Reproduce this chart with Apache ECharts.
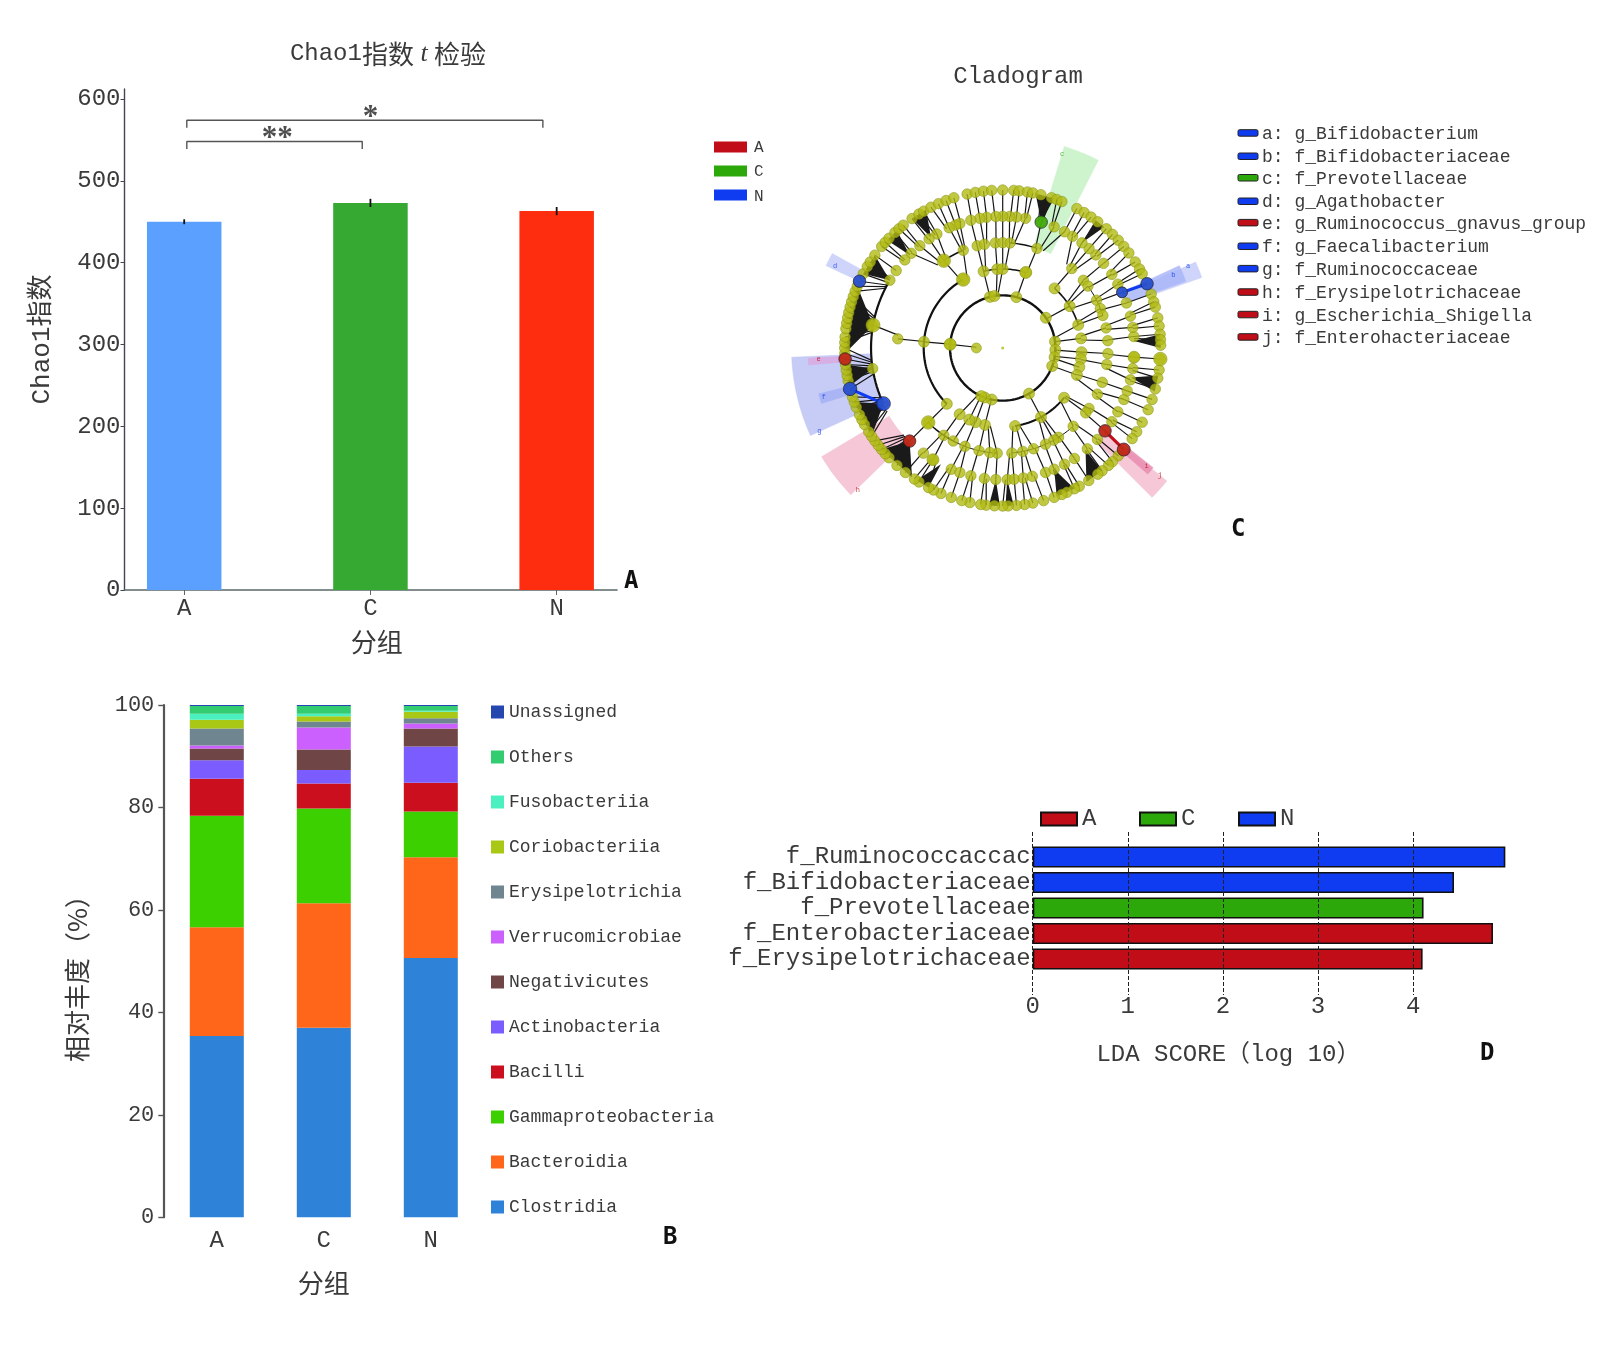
<!DOCTYPE html>
<html><head><meta charset="utf-8">
<style>html,body{margin:0;padding:0;background:#fff}#c{width:1600px;height:1347px}</style>
<script src="https://cdn.jsdelivr.net/npm/echarts@6/dist/echarts.min.js"></script>
</head><body><div id="c"></div>
<script>
// ---- Panel A
const chaoCategories = ['A','C','N'];
const chaoValues = [450,473,463];
const chaoErrors = [3,5,5];
const chaoColors = ['#5b9fff','#35a932','#ff2d10'];
const chaoTicks = [0,100,200,300,400,500,600];
const bracketShort = [[0.014,539],[0.014,548],[0.956,548],[0.956,539]];
const bracketLong = [[0.014,565],[0.014,574],[1.926,574],[1.926,565]];
const starMarks = [[0.5,548,'**'],[1.0,574,'*']];
// ---- Panel B
const stackCategories = ['A','C','N'];
const taxa = ['Clostridia','Bacteroidia','Gammaproteobacteria','Bacilli','Actinobacteria','Negativicutes','Verrucomicrobiae','Erysipelotrichia','Coriobacteriia','Fusobacteriia','Others','Unassigned'];
const taxaColors = ['#2e82d8','#ff661a','#3dd000','#cc0f1e','#7a5cff','#704545','#cc60ff','#6f8590','#a8c815','#4af0c0','#33cc70','#2448b0'];
const groupA = [35.4,21.2,21.8,7.2,3.6,2.3,0.6,3.3,1.7,1.2,1.5,0.2];
const groupC = [37.0,24.3,18.5,4.9,2.6,4.0,4.3,1.2,1.0,0.5,1.5,0.2];
const groupN = [50.6,19.7,8.9,5.6,7.1,3.5,1.0,1.0,1.3,0.2,0.9,0.2];
// ---- Panel D
const ldaNames = ['f_Ruminococcaccac','f_Bifidobacteriaceae','f_Prevotellaceae','f_Enterobacteriaceae','f_Erysipelotrichaceae'];
const ldaScores = [4.97,4.43,4.11,4.84,4.10];
const ldaGroups = ['N','N','C','A','A'];
const groupNames = ['A','C','N'];
const groupColors = {A:'#c00d18',C:'#2da80a',N:'#0f3cf0'};
// ---- Panel C: cladogram, angle in degrees clockwise from north, per ring
const ring1 = [270];
const ring2 = [274,346,351,15,55,83,92,100,110,150,192,200,204];
const ring3 = [274.5,330,346,356,0,17,41,58,73,83,93,98,104,110,129,151,171,193,200,205,213,225];
const ring4 = [275,326,338,346,350,356,0,4,19,41,50,54,63,68,72,79,86,93,99,109,116,125,128,138,148,151,156,163,169,175,183,187,193,201,208,214,225];
const ring5 = [280,261,245,225,212,217,203,199,194,188,183,178,175,171,167,161,157,152,147,140,134,129,124,119,113,109,104,99,94,85,81,76,70,65,61,56,50,45,41,37,32,28,23,17,10,6,3,0,357,353,350,346,341,339,336,330,326,321,316,312,306,301];
const ring6 = [347,350,353,356,0,4,6,9,11,14,18,20,22,28,31,34,37,41,44,47,50,53,57,60,62,66,70,73,75,79,82,85,87,89,94,98,101,105,109,113,118,122,125,130,133,136,138,141,143,147,151,153,156,158,161,165,169,172,175,178,180,183,186,188,192,195,199,203,206,208,212,214,218,222,226,228,230,232,234,236,238,241,243,245,248,250,252,255,258,260,262,264,266,268,270,272,274,277,279,281,283,285,287,289,291,293,295,298,301,303,306,310,312,314,317,319,321,325,328,330,333,336,339,342];
const bigNodes = [[2,274,12],[3,330,13.5],[3,17,12],[4,326,13.5],[4,225,13.5],[5,280,14],[5,94,12],[5,212,12],[6,94,13.5]];
const cladeNodes = [[6,295,'N',12.5],[6,255,'N',13.5],[5,245,'N',14],[6,66,'N',12.5],[5,65,'N',11],[6,266,'A',12.5],[5,225,'A',12.5],[5,129,'A',12.5],[6,130,'A',13],[5,17,'C',12.5]];
const cladeEdges = [[6,255,5,245,'N'],[6,66,5,65,'N'],[6,130,5,129,'A']];
const ringArcs = [[2,0,360,2.4],[3,225,330,2.2],[3,346,377,1.5],[3,41,73,1.6],[3,129,171,2],[4,4,19,1.5],[4,326,338,1.6],[5,245,300,2.2],[4,138,175,1],[4,183,205,1],[4,205,225,1.6],[4,54,72,1]];
const fanWedges = [[5,17,6,12,19],[5,87,6,85,90],[5,280,6,268,293],[5,261,6,256,264],[5,245,6,236,250],[5,225,6,215,230],[5,301,6,298,306],[5,208,6,208,213],[5,183,6,181,185],[5,178,6,176,179],[5,157,6,153,160],[5,141,6,141,148],[5,103,6,100,106],[5,37,6,36,40],[5,315,6,313,318],[5,327,6,325,331]];
const cladeSectors = [[4.02,8,17,27,'#c6f2c6'],[5.03,8.02,245.5,267.5,'#bcc3f5'],[5.03,8.02,226,239,'#f3bdd0'],[5.05,8.02,129,135,'#f3bdd0'],[6.02,8.02,66,70.5,'#c7cdfa'],[6.05,7.4,295,299,'#c7cdfa'],[6.05,7.4,265,267,'#d9a9e0'],[6.05,7.2,253,256,'#a4b0f5'],[6.05,7.3,128.5,131,'#e88cb0'],[5,7.4,65,70,'#a9b6f8']];
const sectorLetters = [[7.7,17,'c','C'],[7.08,296,'d','N'],[7.0,266.5,'e','A'],[7.05,254.8,'f','N'],[7.65,245.5,'g','N'],[7.7,225.6,'h','A'],[7.08,129.5,'i','A'],[7.68,129,'j','A'],[7.05,66.8,'b','N'],[7.7,66.2,'a','N']];
const cladoLegend = ['a: g_Bifidobacterium','b: f_Bifidobacteriaceae','c: f_Prevotellaceae','d: g_Agathobacter','e: g_Ruminococcus_gnavus_group','f: g_Faecalibacterium','g: f_Ruminococcaceae','h: f_Erysipelotrichaceae','i: g_Escherichia_Shigella','j: f_Enterohacteriaceae'];
const cladoLegendGroups = ['N','N','C','N','A','N','N','A','A','A'];

const MONO = '"Liberation Mono","Noto Sans CJK SC",monospace';
const INK = '#3a3a3a';
const chart = echarts.init(document.getElementById('c'));

const rings = [[0],ring1,ring2,ring3,ring4,ring5,ring6];
const edges = [];
for (let L=2; L<=6; L++) {
  rings[L].forEach(t=>{
    let best=null,bd=1e9,sd=0;
    rings[L-1].forEach(p=>{ let d=((p-t+540)%360)-180; if(Math.abs(d)<bd){bd=Math.abs(d);best=p;sd=d;} });
    if (bd<=12) edges.push([L,t,L-1,(t+0.6*sd+360)%360]);
  });
}
const lineItem = (api,params,color,width)=>{
  const a=api.coord([api.value(0),api.value(1)%360]), b=api.coord([api.value(2),api.value(3)%360]);
  return {type:'line',shape:{x1:a[0],y1:a[1],x2:b[0],y2:b[1]},style:{stroke:color,lineWidth:width}};
};
const polarBase = {coordinateSystem:'polar',polarIndex:0,silent:true,animation:false,clip:false};
const olive = {color:'#b2bc14',borderColor:'#8a9410',borderWidth:0.7};

const series = [];
// A
series.push({type:'bar',name:'chao',xAxisIndex:0,yAxisIndex:0,barWidth:74.5,animation:false,
  data:chaoValues.map((v,i)=>({value:[i,v],itemStyle:{color:chaoColors[i]}}))});
series.push({type:'custom',name:'chaoErr',xAxisIndex:0,yAxisIndex:0,animation:false,silent:true,z:5,
  data:chaoValues.map((v,i)=>[i,v-chaoErrors[i],v+chaoErrors[i]]),
  renderItem:(p,api)=>{const a=api.coord([api.value(0),api.value(1)]),b=api.coord([api.value(0),api.value(2)]);
    return {type:'line',shape:{x1:a[0],y1:a[1],x2:b[0],y2:b[1]},style:{stroke:'#111',lineWidth:1.8}};}});
[bracketShort,bracketLong].forEach((b,i)=>series.push({type:'line',name:'bracket'+i,xAxisIndex:0,yAxisIndex:0,data:b,showSymbol:false,symbol:'none',animation:false,silent:true,lineStyle:{color:'#555',width:1.4}}));
series.push({type:'scatter',name:'stars',xAxisIndex:0,yAxisIndex:0,symbolSize:0,animation:false,silent:true,
  data:starMarks.map(s=>({value:[s[0],s[1]],label:{show:true,formatter:s[2],position:'top',distance:-13,fontFamily:'"Liberation Serif"',fontWeight:'bold',fontSize:31,color:'#222'}}))});
// B
taxa.forEach((t,i)=>series.push({type:'bar',name:t,stack:'b',xAxisIndex:1,yAxisIndex:1,barWidth:54,animation:false,
  itemStyle:{color:taxaColors[i]},data:[groupA[i],groupC[i],groupN[i]]}));
// D
groupNames.forEach(g=>series.push({type:'bar',name:g,xAxisIndex:2,yAxisIndex:2,barWidth:21,barGap:'-100%',animation:false,
  itemStyle:{color:groupColors[g],borderColor:'#111',borderWidth:1.6},
  data:ldaScores.map((v,i)=>ldaGroups[i]===g?v:null)}));
// C
series.push({...polarBase,type:'custom',name:'sectors',z:1,data:cladeSectors,
  renderItem:(p,api)=>{
    const s=cladeSectors[p.dataIndex],pts=[];
    for(let k=0;k<=12;k++){const t=s[2]+(s[3]-s[2])*k/12;pts.push(api.coord([s[1],t]));}
    for(let k=12;k>=0;k--){const t=s[2]+(s[3]-s[2])*k/12;pts.push(api.coord([s[0],t]));}
    return {type:'polygon',shape:{points:pts},style:{fill:s[4],stroke:s[4],lineWidth:0.5,opacity:0.85}};
  }});
series.push({...polarBase,type:'custom',name:'edges',z:2,data:edges,renderItem:(p,api)=>lineItem(api,p,'#151515',1.2)});
series.push({...polarBase,type:'custom',name:'arcs',z:2,data:ringArcs,
  renderItem:(p,api)=>{const s=ringArcs[p.dataIndex],pts=[];const n=Math.ceil((s[2]-s[1])/2);
    for(let k=0;k<=n;k++){pts.push(api.coord([s[0],(s[1]+(s[2]-s[1])*k/n)%360]));}
    return {type:'polyline',shape:{points:pts},style:{fill:'none',stroke:'#111',lineWidth:s[3]}};}});
series.push({...polarBase,type:'custom',name:'fans',z:2,data:fanWedges,
  renderItem:(p,api)=>{const s=fanWedges[p.dataIndex];
    return {type:'polygon',shape:{points:[api.coord([s[0],s[1]]),api.coord([s[2],s[3]]),api.coord([s[2],s[4]])]},style:{fill:'#1a1a1a'}};}});
series.push({...polarBase,type:'custom',name:'cladeEdges',z:3,data:cladeEdges,
  renderItem:(p,api)=>lineItem(api,p,groupColors[cladeEdges[p.dataIndex][4]],3)});
[[1,10],[2,11],[3,11],[4,10.5],[5,10.5],[6,10.5]].forEach(([L,sz])=>series.push({...polarBase,type:'scatter',name:'ring'+L,z:4,symbolSize:sz,itemStyle:olive,
  data:rings[L].map(t=>[L,t])}));
series.push({...polarBase,type:'scatter',name:'rootNode',z:4,symbolSize:3,itemStyle:{color:'#b2bc14'},data:[[0,0]]});
series.push({...polarBase,type:'scatter',name:'bigNodes',z:5,itemStyle:olive,data:bigNodes.map(n=>[n[0],n[1],n[2]]),symbolSize:v=>v[2]});
series.push({...polarBase,type:'scatter',name:'cladeNodes',z:6,
  data:cladeNodes.map(n=>({value:[n[0],n[1]],symbolSize:n[3],itemStyle:{color:groupColors[n[2]],borderColor:'#222',borderWidth:0.9}}))});
series.push({...polarBase,type:'scatter',name:'letters',z:6,symbolSize:0,
  data:sectorLetters.map(s=>({value:[s[0],s[1]],label:{show:true,formatter:s[2],position:'inside',fontSize:7,fontFamily:MONO,color:groupColors[s[3]]}}))});

const graphic = [];
[['A',624,570],['B',663,1226],['C',1231,518],['D',1480,1042]].forEach(l=>graphic.push(
  {type:'text',x:l[1],y:l[2],z:20,style:{text:l[0],fontFamily:'"DejaVu Sans Mono"',fontWeight:'bold',fontSize:24,fill:'#111'}}));
groupNames.forEach((g,i)=>{
  graphic.push({type:'rect',shape:{x:714,y:141.5+i*24,width:33,height:11},style:{fill:groupColors[g]}});
  graphic.push({type:'text',x:754,y:139.5+i*24.5,style:{text:g,fontFamily:MONO,fontSize:16,fill:INK}});
});
const legendYs=[132.7,156,177.5,201,222.4,246,268.4,291.8,314.3,336.7];
cladoLegend.forEach((t,i)=>{
  graphic.push({type:'rect',shape:{x:1238,y:legendYs[i]-3,width:20,height:6.5,r:1.5},style:{fill:groupColors[cladoLegendGroups[i]],stroke:'#222',lineWidth:1}});
  graphic.push({type:'text',x:1262,y:legendYs[i]-7.5,style:{text:t,fontFamily:MONO,fontSize:18,fill:INK}});
});

chart.setOption({
  backgroundColor:'#fff',animation:false,
  title:[
    {text:'{a|Chao1}{c|指数}{i| t }{c|检验}',left:383,top:36,textAlign:'center',textStyle:{fontWeight:'normal',rich:{a:{fontFamily:MONO,fontWeight:'normal',fontSize:24,color:INK},c:{fontFamily:'"Noto Sans CJK SC"',fontWeight:'normal',fontSize:26,color:INK},i:{fontFamily:'"Liberation Serif"',fontWeight:'normal',fontStyle:'italic',fontSize:26,color:INK}}}},
    {text:'Cladogram',left:1013,top:60,textAlign:'center',textStyle:{fontFamily:MONO,fontSize:24,fontWeight:'normal',color:INK}}
  ],
  grid:[
    {left:124.5,top:89,width:492.5,height:501},
    {left:163.3,top:705,width:321,height:512.3},
    {left:1032.7,top:844.25,width:475.5,height:127.5},
    {left:1032.7,top:832,width:475.5,height:163}
  ],
  polar:{center:[1002.7,348],radius:213.3},
  angleAxis:{show:false,min:0,max:360,startAngle:90,clockwise:true},
  radiusAxis:{show:false,min:0,max:8.1},
  xAxis:[
    {gridIndex:0,type:'value',min:-0.3206,max:2.324,splitLine:{show:false},
     axisLine:{show:true,onZero:false,lineStyle:{color:'#5a6868',width:1.6}},
     axisTick:{show:true,customValues:[0,1,2],length:5,lineStyle:{color:'#5a6868'}},
     axisLabel:{customValues:[0,1,2],formatter:v=>chaoCategories[v],fontFamily:MONO,fontSize:24,color:INK,margin:7},
     name:'分组',nameLocation:'middle',nameGap:39,nameTextStyle:{fontFamily:'"Noto Sans CJK SC"',fontSize:26,color:INK,padding:[0,0,0,12]}},
    {gridIndex:1,type:'category',data:stackCategories,axisLine:{show:false},axisTick:{show:false},
     axisLabel:{fontFamily:MONO,fontSize:24,color:INK,margin:11},
     name:'分组',nameLocation:'middle',nameGap:53,nameTextStyle:{fontFamily:'"Noto Sans CJK SC"',fontSize:26,color:INK}},
    {gridIndex:2,type:'value',min:0,max:5,show:false,splitLine:{show:false}},
    {gridIndex:3,type:'value',min:0,max:5,z:5,position:'bottom',
     axisLine:{show:false},
     axisTick:{show:false,customValues:[0,1,2,3,4]},
     splitLine:{show:true,lineStyle:{type:'dashed',color:'#222',width:1}},
     axisLabel:{customValues:[0,1,2,3,4],fontFamily:MONO,fontSize:24,color:INK,margin:0},
     name:'LDA SCORE（log 10）',nameLocation:'middle',nameGap:48,
     nameTextStyle:{fontFamily:MONO,fontSize:24,color:INK,padding:[0,84,0,0]}}
  ],
  yAxis:[
    {gridIndex:0,type:'value',min:0,max:612.2,splitLine:{show:false},
     axisLine:{show:true,onZero:false,lineStyle:{color:'#445',width:1.4}},
     axisTick:{show:true,customValues:chaoTicks,length:4,lineStyle:{color:'#445'}},
     axisLabel:{customValues:chaoTicks,fontFamily:MONO,fontSize:24,color:INK,margin:4},
     name:'Chao1指数',nameLocation:'middle',nameRotate:90,nameGap:69,nameTextStyle:{fontFamily:MONO,fontSize:26,color:INK}},
    {gridIndex:1,type:'value',min:0,max:100,interval:20,splitLine:{show:false},
     axisLine:{show:true,lineStyle:{color:'#555',width:2.2}},
     axisTick:{show:true,length:5,lineStyle:{color:'#555',width:1.4}},
     axisLabel:{fontFamily:MONO,fontSize:22,color:INK,margin:9},
     name:'相对丰度（%）',nameLocation:'middle',nameRotate:90,nameGap:73,
     nameTextStyle:{fontFamily:'"Noto Sans CJK SC"',fontSize:26,color:INK,padding:[0,22,0,0]}},
    {gridIndex:2,type:'category',data:ldaNames,inverse:true,
     axisLine:{show:false},axisTick:{show:false},
     axisLabel:{interval:0,fontFamily:MONO,fontSize:24,color:INK,margin:2}},
    {gridIndex:3,type:'value',show:false,min:0,max:1,splitLine:{show:false}}
  ],
  legend:[
    {data:taxa.slice().reverse(),orient:'vertical',left:486,top:698,itemWidth:13,itemHeight:13,itemGap:27,selectedMode:false,icon:'rect',
     itemStyle:{borderWidth:0},textStyle:{fontFamily:MONO,fontSize:18,color:INK,lineHeight:18}},
    {data:groupNames,orient:'horizontal',left:1035,top:802,itemWidth:36,itemHeight:13,itemGap:42.6,selectedMode:false,icon:'rect',
     textStyle:{fontFamily:MONO,fontSize:24,color:INK}}
  ],
  graphic:graphic,
  series:series
});
</script></body></html>
